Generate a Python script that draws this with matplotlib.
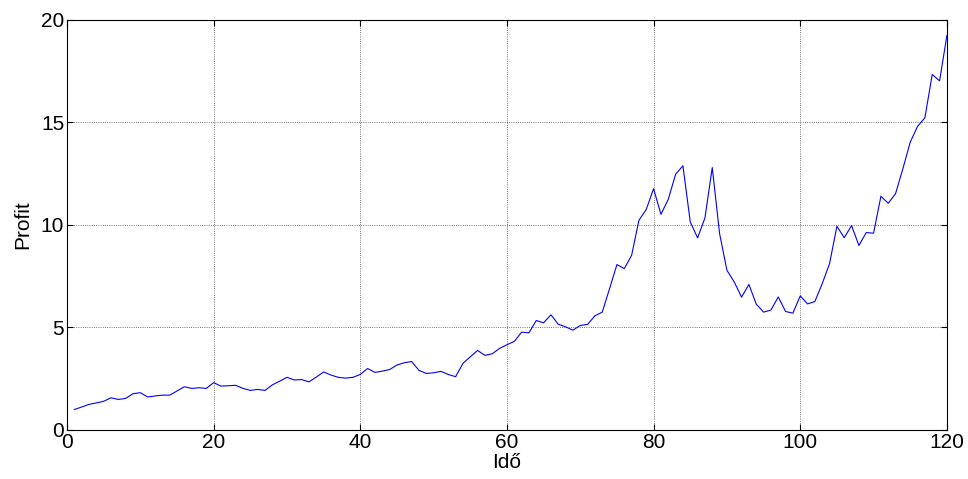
#Grafico de profit en el tiempo

import numpy as np
import matplotlib.pyplot as plt

plt.rcParams['font.family'] = ['Liberation Sans', 'DejaVu Sans']

#Datos
ido = np.arange(1, 121)
profit = [1.00, 1.12, 1.25, 1.32, 1.40, 1.57, 1.49, 1.54, 1.77, 1.82,
          1.61, 1.66, 1.70, 1.70, 1.90, 2.11, 2.03, 2.06, 2.03, 2.31,
          2.14, 2.16, 2.18, 2.03, 1.93, 1.98, 1.93, 2.20, 2.38, 2.57,
          2.44, 2.46, 2.35, 2.58, 2.83, 2.68, 2.57, 2.53, 2.57, 2.71,
          3.00, 2.81, 2.87, 2.95, 3.17, 3.28, 3.34, 2.91, 2.76, 2.79,
          2.86, 2.71, 2.60, 3.25, 3.57, 3.88, 3.64, 3.72, 3.98, 4.16,
          4.32, 4.77, 4.74, 5.34, 5.23, 5.62, 5.16, 5.03, 4.87, 5.10,
          5.15, 5.57, 5.75, 6.90, 8.07, 7.87, 8.52, 10.23, 10.76, 11.77,
          10.52, 11.25, 12.47, 12.89, 10.15, 9.37, 10.34, 12.80, 9.58, 7.79,
          7.22, 6.48, 7.10, 6.14, 5.75, 5.85, 6.49, 5.78, 5.70, 6.54,
          6.15, 6.27, 7.14, 8.12, 9.94, 9.38, 9.97, 9.00, 9.63, 9.60,
          11.40, 11.06, 11.53, 12.75, 14.04, 14.81, 15.23, 17.34, 17.03, 19.24]

fig = plt.figure(figsize=(9.68, 4.79), dpi=100)
ax = fig.add_axes([0.0692, 0.1023, 0.909, 0.856])
ax.plot(ido, profit, color=(0, 0, 1), linewidth=0.8)
ax.set_xlim(0, 120)
ax.set_ylim(0, 20)
ax.set_xticks([0, 20, 40, 60, 80, 100, 120])
ax.set_yticks([0, 5, 10, 15, 20])
ax.grid(True, linestyle=':', color='#444444', linewidth=0.6)
ax.tick_params(direction='in', top=True, right=True, length=4, labelsize=15, width=0.8, pad=2)
for s in ax.spines.values():
    s.set_linewidth(0.8)
ax.set_xlabel("Idő", fontsize=15, labelpad=1)
ax.set_ylabel("Profit", fontsize=15, labelpad=6)
fig.savefig("out.png", dpi=100)
